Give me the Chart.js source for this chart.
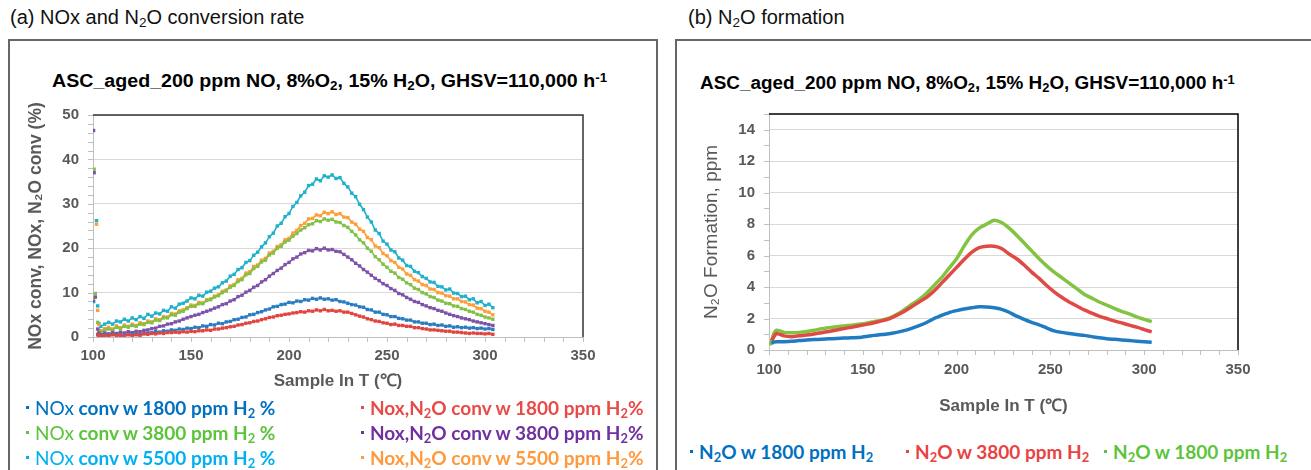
<!DOCTYPE html>
<html>
<head>
<meta charset="utf-8">
<script src="https://cdn.jsdelivr.net/npm/chart.js@4.4.1/dist/chart.umd.min.js"></script>
<style>
  html, body { margin: 0; padding: 0; background: #fff; }
  body { width: 1311px; height: 470px; position: relative; overflow: hidden; font-family: "Liberation Sans", Arial, sans-serif; }
  .frame { position: absolute; border: 2px solid #666; box-sizing: border-box; }
  .ptitle { position: absolute; font-size: 20px; color: #111; white-space: nowrap; }
  .ctitle { position: absolute; font-size: 18px; font-weight: bold; color: #000; white-space: nowrap; transform-origin: 0 0; }
  sub { font-size: 0.68em; vertical-align: -0.25em; line-height: 0; }
  sup { font-size: 0.68em; vertical-align: 0.45em; line-height: 0; }
  canvas { position: absolute; }
  .li { position: absolute; font-family: Lato, "Open Sans", sans-serif; font-weight: bold; font-size: 19px; line-height: 22px; white-space: nowrap; }
  .li i { display: inline-block; width: 3px; height: 3px; background: currentColor; vertical-align: middle; margin-right: 6px; position: relative; top: -3px; }
</style>
</head>
<body>
<div class="frame" style="left:8px;top:39px;width:650px;height:460px"></div>
<div class="frame" style="left:675px;top:39px;width:700px;height:460px"></div>

<div class="ptitle" style="left:10px;top:6px">(a) NOx and N<sub>2</sub>O conversion rate</div>
<div class="ptitle" style="left:688px;top:6px">(b) N<sub>2</sub>O formation</div>

<div class="ctitle" style="left:52px;top:71px;transform:scaleX(1.09)">ASC_aged_200 ppm NO, 8%O<sub>2</sub>, 15% H<sub>2</sub>O, GHSV=110,000 h<sup>-1</sup></div>
<div class="ctitle" style="left:700px;top:73px;transform:scaleX(1.05)">ASC_aged_200 ppm NO, 8%O<sub>2</sub>, 15% H<sub>2</sub>O, GHSV=110,000 h<sup>-1</sup></div>

<canvas id="chartA" width="600" height="300" style="left:8px;top:100px"></canvas>
<canvas id="chartB" width="600" height="320" style="left:680px;top:100px"></canvas>

<div class="li" style="left:26px;top:397px;color:#0070c0"><i></i><span style="font-weight:400">NOx</span> conv w 1800 ppm H<sub>2</sub> %</div>
<div class="li" style="left:26px;top:422px;color:#5cc43a"><i></i><span style="font-weight:400">NOx</span> conv w 3800 ppm H<sub>2</sub> %</div>
<div class="li" style="left:26px;top:447px;color:#00b0f0"><i></i><span style="font-weight:400">NOx</span> conv w 5500 ppm H<sub>2</sub> %</div>
<div class="li" style="left:361px;top:397px;color:#e84a48"><i></i>Nox,N<sub>2</sub>O conv w 1800 ppm H<sub>2</sub>%</div>
<div class="li" style="left:361px;top:422px;color:#7030a0"><i></i>Nox,N<sub>2</sub>O conv w 3800 ppm H<sub>2</sub>%</div>
<div class="li" style="left:361px;top:447px;color:#ff9a3c"><i></i>Nox,N<sub>2</sub>O conv w 5500 ppm H<sub>2</sub>%</div>

<div class="li" style="left:690px;top:441px;color:#0070c0"><i></i>N<sub>2</sub>O w 1800 ppm H<sub>2</sub></div>
<div class="li" style="left:906px;top:441px;color:#e8433f"><i></i>N<sub>2</sub>O w 3800 ppm H<sub>2</sub></div>
<div class="li" style="left:1104px;top:441px;color:#5cc43a"><i></i>N<sub>2</sub>O w 1800 ppm H<sub>2</sub></div>

<script>
// ---- panel (a) data: sample inlet T (°C) and conversions (%) ----
const earlyTempsA = [100.3, 100.6, 101.2, 101.8, 102.4, 103.0];
const tempsA = [
  104, 106, 108, 110, 112, 114, 116, 118, 120, 122,
  124, 126, 128, 130, 132, 134, 136, 138, 140, 142,
  144, 146, 148, 150, 152, 154, 156, 158, 160, 162,
  164, 166, 168, 170, 172, 174, 176, 178, 180, 182,
  184, 186, 188, 190, 192, 194, 196, 198, 200, 202,
  204, 206, 208, 210, 212, 214, 216, 218, 220, 222,
  224, 226, 228, 230, 232, 234, 236, 238, 240, 242,
  244, 246, 248, 250, 252, 254, 256, 258, 260, 262,
  264, 266, 268, 270, 272, 274, 276, 278, 280, 282,
  284, 286, 288, 290, 292, 294, 296, 298, 300, 302,
  304
];

const earlyNox1800 = [8.0, null, null, null, 0.6, 0.4];
const nox1800 = [
  0.2, 0.5, 0.3, 0.6, 0.4, 0.5, 0.3, 0.6, 0.5, 0.7,
  0.5, 0.8, 0.9, 1.0, 1.2, 1.1, 1.4, 1.3, 1.6, 1.5,
  1.8, 1.7, 2.0, 1.9, 2.2, 2.1, 2.5, 2.4, 2.8, 2.7,
  3.1, 3.0, 3.4, 3.5, 3.9, 4.0, 4.4, 4.5, 5.0, 5.1,
  5.5, 5.7, 6.1, 6.3, 6.8, 6.9, 7.3, 7.4, 7.8, 7.7,
  8.1, 8.0, 8.4, 8.3, 8.7, 8.5, 8.8, 8.5, 8.6, 8.3,
  8.4, 8.0, 7.9, 7.6, 7.3, 7.2, 6.8, 6.7, 6.2, 6.1,
  5.6, 5.6, 5.1, 5.0, 4.6, 4.6, 4.2, 4.1, 3.8, 3.8,
  3.4, 3.4, 3.1, 3.1, 2.8, 2.9, 2.6, 2.7, 2.4, 2.5,
  2.2, 2.3, 2.1, 2.2, 2.0, 2.1, 1.9, 2.0, 1.8, 1.9,
  1.7
];

const earlyNoxN2o1800 = [null, null, null, null, 0.5, 0.3];
const noxN2o1800 = [
  0.1, 0.4, 0.2, 0.5, 0.3, 0.4, 0.2, 0.5, 0.3, 0.5,
  0.4, 0.7, 0.6, 0.8, 0.7, 0.9, 0.8, 1.0, 1.0, 1.1,
  1.0, 1.2, 1.1, 1.3, 1.2, 1.4, 1.4, 1.6, 1.5, 1.8,
  1.8, 2.0, 2.1, 2.3, 2.4, 2.7, 2.8, 3.1, 3.2, 3.5,
  3.6, 3.9, 4.1, 4.4, 4.5, 4.8, 4.9, 5.1, 5.2, 5.4,
  5.5, 5.7, 5.6, 5.9, 5.8, 6.1, 5.9, 6.2, 5.9, 6.0,
  5.8, 5.9, 5.6, 5.6, 5.3, 5.0, 4.7, 4.5, 4.1, 3.9,
  3.6, 3.5, 3.2, 3.1, 2.8, 2.9, 2.6, 2.6, 2.4, 2.4,
  2.1, 2.1, 1.9, 1.8, 1.6, 1.6, 1.5, 1.4, 1.3, 1.3,
  1.1, 1.1, 1.0, 0.9, 0.8, 0.9, 0.8, 0.8, 0.7, 0.8,
  0.6
];

const earlyNox3800 = [null, 37.8, 9.8, null, 3.3, 1.5];
const nox3800 = [
  1.0, 1.6, 1.8, 1.5, 2.2, 1.9, 2.4, 2.2, 2.6, 2.4,
  2.9, 2.8, 3.3, 3.2, 3.8, 3.7, 4.3, 4.3, 5.0, 4.9,
  5.6, 5.8, 6.4, 6.9, 6.9, 7.5, 7.5, 8.2, 8.4, 9.0,
  9.3, 10.0, 10.4, 11.2, 11.6, 12.5, 12.9, 14.0, 14.3, 15.4,
  15.9, 16.9, 17.3, 18.5, 18.9, 20.0, 20.4, 21.4, 21.8, 22.7,
  23.3, 24.1, 24.6, 25.3, 25.5, 26.2, 26.0, 26.6, 26.3, 26.5,
  25.9, 25.8, 25.1, 24.7, 23.8, 23.0, 21.9, 21.2, 20.0, 19.3,
  18.1, 17.4, 16.4, 15.7, 14.8, 14.4, 13.4, 13.0, 12.2, 11.8,
  11.0, 10.7, 10.0, 9.7, 9.1, 8.9, 8.3, 8.1, 7.6, 7.5,
  7.0, 6.9, 6.4, 6.2, 5.8, 5.6, 5.1, 4.9, 4.5, 4.3,
  4.0
];

const earlyNoxN2o3800 = [46.5, 37.0, 9.0, null, 1.8, 0.9];
const noxN2o3800 = [
  0.5, 0.9, 0.7, 1.0, 0.8, 1.1, 0.9, 1.2, 1.0, 1.3,
  1.2, 1.5, 1.6, 1.9, 2.0, 2.4, 2.5, 2.9, 3.0, 3.4,
  3.6, 4.0, 4.3, 4.6, 4.9, 5.1, 5.5, 5.8, 6.1, 6.5,
  6.8, 7.3, 7.5, 8.1, 8.4, 9.1, 9.4, 10.1, 10.5, 11.2,
  11.6, 12.4, 12.9, 13.7, 14.3, 15.0, 15.5, 16.3, 16.8, 17.6,
  18.0, 18.7, 19.0, 19.5, 19.4, 19.9, 19.6, 20.0, 19.6, 19.7,
  19.3, 19.2, 18.6, 18.0, 17.4, 16.6, 16.0, 15.2, 14.6, 13.9,
  13.2, 12.7, 12.0, 11.6, 10.9, 10.5, 9.8, 9.5, 8.9, 8.5,
  8.0, 7.8, 7.3, 7.0, 6.6, 6.4, 6.0, 5.8, 5.4, 5.1,
  4.8, 4.6, 4.3, 4.1, 3.9, 3.6, 3.4, 3.2, 3.0, 2.8,
  2.6
];

const earlyNox5500 = [null, null, null, 26.2, 7.0, 3.0];
const nox5500 = [
  2.4, 2.9, 3.3, 2.9, 3.6, 3.4, 4.0, 3.6, 4.3, 3.9,
  4.6, 4.2, 5.1, 4.7, 5.4, 5.2, 6.0, 5.8, 6.8, 6.5,
  7.4, 7.6, 8.1, 8.8, 8.6, 9.4, 9.2, 10.1, 10.3, 11.0,
  11.3, 12.2, 12.6, 13.7, 14.1, 15.2, 15.6, 16.8, 17.2, 18.4,
  19.1, 20.3, 21.2, 22.6, 23.4, 25.0, 25.6, 27.1, 27.8, 29.4,
  30.3, 31.8, 32.6, 34.1, 34.4, 35.6, 35.2, 36.3, 36.0, 36.5,
  35.7, 35.9, 34.6, 33.8, 32.4, 31.6, 29.9, 28.7, 27.0, 25.9,
  24.1, 23.3, 21.6, 20.9, 19.6, 19.2, 17.8, 17.3, 16.1, 15.9,
  14.8, 14.5, 13.6, 13.2, 12.4, 12.3, 11.4, 11.3, 10.6, 10.8,
  9.9, 9.8, 9.1, 9.2, 8.4, 8.6, 7.7, 8.0, 7.1, 7.4,
  6.6
];

const earlyNoxN2o5500 = [8.4, null, null, 25.4, 6.0, 2.8];
const noxN2o5500 = [
  1.4, 1.9, 2.2, 1.8, 2.5, 2.1, 2.7, 2.4, 2.9, 2.6,
  3.2, 3.0, 3.6, 3.4, 4.1, 3.9, 4.6, 4.5, 5.3, 5.2,
  5.9, 6.1, 6.6, 7.2, 7.1, 7.8, 7.7, 8.4, 8.6, 9.2,
  9.5, 10.3, 10.6, 11.5, 11.8, 12.9, 13.2, 14.4, 14.7, 15.9,
  16.2, 17.3, 17.7, 18.9, 19.3, 20.4, 20.8, 21.9, 22.2, 23.4,
  24.0, 25.1, 25.6, 26.6, 26.7, 27.5, 27.3, 28.1, 27.8, 28.2,
  27.6, 27.8, 27.0, 26.9, 25.9, 25.4, 24.3, 23.8, 22.4, 21.9,
  20.5, 20.1, 18.8, 18.3, 17.2, 16.8, 15.7, 15.3, 14.2, 13.9,
  12.9, 12.6, 11.8, 11.6, 10.8, 10.7, 10.0, 9.9, 9.3, 9.2,
  8.6, 8.6, 8.0, 7.9, 7.3, 7.2, 6.5, 6.4, 5.8, 5.6,
  5.0
];

// ---- panel (b) data: N2O formation (ppm) ----
const earlyTempsB = [100.4, 101.4, 102.4];
const tempsB = [
  104, 108, 112, 116, 120, 124, 128, 132, 136, 140,
  144, 148, 152, 156, 160, 164, 168, 172, 176, 180,
  184, 188, 192, 196, 200, 204, 208, 212, 216, 220,
  224, 228, 232, 236, 240, 244, 248, 252, 256, 260,
  264, 268, 272, 276, 280, 284, 288, 292, 296, 300,
  304
];

const earlyN2o1800 = [null, 0.4, 0.5];
const n2o1800 = [
  0.52, 0.53, 0.55, 0.60, 0.63, 0.66, 0.68, 0.71, 0.73, 0.76,
  0.78, 0.80, 0.86, 0.93, 0.98, 1.03, 1.12, 1.23, 1.38, 1.55,
  1.75, 2.00, 2.20, 2.38, 2.50, 2.60, 2.68, 2.75, 2.74, 2.68,
  2.58, 2.40, 2.15, 1.95, 1.75, 1.60, 1.40, 1.22, 1.12, 1.05,
  0.98, 0.93, 0.85, 0.78, 0.72, 0.68, 0.64, 0.60, 0.56, 0.52,
  0.49
];

const earlyN2o3800 = [null, 0.6, 0.8];
const n2o3800 = [
  1.05, 0.90, 0.85, 0.90, 0.95, 1.02, 1.10, 1.18, 1.27, 1.36,
  1.45, 1.54, 1.63, 1.73, 1.85, 1.98, 2.20, 2.45, 2.75, 3.05,
  3.35, 3.75, 4.25, 4.75, 5.25, 5.75, 6.20, 6.50, 6.60, 6.60,
  6.45, 6.10, 5.80, 5.40, 4.95, 4.55, 4.10, 3.70, 3.35, 3.05,
  2.80, 2.55, 2.35, 2.15, 2.00, 1.85, 1.72, 1.58, 1.45, 1.30,
  1.15
];

const earlyN2o1800b = [0.3, 0.55, 1.0];
const n2o1800b = [
  1.25, 1.12, 1.10, 1.12, 1.17, 1.25, 1.35, 1.42, 1.48, 1.53,
  1.58, 1.63, 1.70, 1.80, 1.90, 2.03, 2.25, 2.55, 2.90, 3.20,
  3.60, 4.10, 4.60, 5.20, 5.80, 6.60, 7.30, 7.75, 8.00, 8.25,
  8.10, 7.75, 7.30, 6.80, 6.30, 5.80, 5.35, 4.95, 4.60, 4.25,
  3.90, 3.55, 3.30, 3.05, 2.85, 2.65, 2.45, 2.30, 2.10, 1.95,
  1.80
];

// axis tick labels
const xTicks = [100, 150, 200, 250, 300, 350];
const yTicksA = [0, 10, 20, 30, 40, 50];
const yTicksB = [0, 2, 4, 6, 8, 10, 12, 14];

const FONT = '"Liberation Sans", Arial, sans-serif';
const AXIS_GREY = '#595959';

function pts(temps, vals) {
  return temps.map((t, i) => ({ x: t, y: vals[i] }));
}

// light minor ticks on the axes + dark top/right border of the plot area
const plotFrame = {
  id: 'plotFrame',
  afterDraw(chart, args, opts) {
    const { ctx, chartArea: a, scales: { x, y } } = chart;
    ctx.save();
    ctx.strokeStyle = '#bfbfbf';
    ctx.lineWidth = 1;
    ctx.beginPath();
    for (let v = x.min; v <= x.max; v += opts.xMinor) {
      const px = Math.round(x.getPixelForValue(v)) + 0.5;
      ctx.moveTo(px, a.bottom);
      ctx.lineTo(px, a.bottom + 5);
    }
    for (let v = y.min; v <= y.max; v += opts.yMinor) {
      const py = Math.round(y.getPixelForValue(v)) + 0.5;
      ctx.moveTo(a.left - 5, py);
      ctx.lineTo(a.left, py);
    }
    ctx.stroke();
    ctx.strokeStyle = opts.color;
    ctx.lineWidth = 1.5;
    ctx.beginPath();
    ctx.moveTo(a.left, a.top);
    ctx.lineTo(a.right, a.top);
    ctx.lineTo(a.right, a.bottom);
    ctx.stroke();
    ctx.restore();
  }
};

function xScale(height, labelPad, titlePad) {
  return {
    type: 'linear', min: 100, max: 350,
    afterBuildTicks: s => { s.ticks = xTicks.map(v => ({ value: v })); },
    afterFit: s => { s.height = height; s.paddingLeft = 0; s.paddingRight = 0; },
    grid: { display: false, drawTicks: false },
    border: { color: '#bfbfbf', width: 1 },
    ticks: { padding: labelPad, color: AXIS_GREY, font: { family: FONT, size: 15, weight: 'bold' } },
    title: { display: true, text: 'Sample In T (℃)', color: AXIS_GREY,
      font: { family: FONT, size: 17, weight: 'bold' }, padding: { top: 0, bottom: titlePad } }
  };
}

function yScale(max, ticks, width, title, titleFont, titlePad) {
  return {
    min: 0, max: max,
    afterBuildTicks: s => { s.ticks = ticks.map(v => ({ value: v })); },
    afterFit: s => { s.width = width; s.paddingTop = 0; s.paddingBottom = 0; },
    grid: { color: '#d9d9d9', drawTicks: false },
    border: { color: '#bfbfbf', width: 1 },
    ticks: { padding: 14, color: AXIS_GREY, font: { family: FONT, size: 15, weight: 'bold' } },
    title: { display: true, text: title, color: AXIS_GREY, font: titleFont, padding: { top: titlePad, bottom: 0 } }
  };
}

function scatterSet(color, temps, vals) {
  return {
    data: pts(temps, vals),
    showLine: true,
    borderColor: color,
    backgroundColor: color,
    borderWidth: 1.6,
    pointRadius: 2.4,
    pointStyle: 'rect',
    pointBorderWidth: 0,
    segment: { borderColor: c => c.p0.parsed.x < 103.5 ? 'rgba(0,0,0,0)' : color }
  };
}

const seriesA = [
  ['#e0453f', earlyNoxN2o1800, noxN2o1800],
  ['#2a7cc0', earlyNox1800, nox1800],
  ['#7e52a8', earlyNoxN2o3800, noxN2o3800],
  ['#82c046', earlyNox3800, nox3800],
  ['#ff9d38', earlyNoxN2o5500, noxN2o5500],
  ['#1fb1cc', earlyNox5500, nox5500]
];

new Chart(document.getElementById('chartA'), {
  type: 'scatter',
  data: {
    datasets: seriesA.map(([c, e, v]) => scatterSet(c, earlyTempsA.concat(tempsA), e.concat(v)))
  },
  options: {
    responsive: false,
    animation: false,
    layout: { padding: { left: 14, top: 15, right: 25, bottom: 0 } },
    plugins: { legend: { display: false }, tooltip: { enabled: false },
      plotFrame: { xMinor: 10, yMinor: 2, color: '#333' } },
    scales: {
      x: xScale(63, 10, 8),
      y: yScale(50, yTicksA, 71, 'NOx conv, NOx, N₂O conv (%)', { family: FONT, size: 17.5, weight: 'bold' }, 4)
    }
  },
  plugins: [plotFrame]
});

const seriesB = [
  ['#1f7cc2', earlyN2o1800, n2o1800],
  ['#e04a44', earlyN2o3800, n2o3800],
  ['#82c341', earlyN2o1800b, n2o1800b]
];

new Chart(document.getElementById('chartB'), {
  type: 'scatter',
  data: {
    datasets: seriesB.map(([c, e, v]) => ({
      data: pts(earlyTempsB.concat(tempsB), e.concat(v)),
      showLine: true,
      borderColor: c,
      backgroundColor: c,
      borderWidth: 3.5,
      pointRadius: 0,
      tension: 0.2
    }))
  },
  options: {
    responsive: false,
    animation: false,
    layout: { padding: { left: 18, top: 14, right: 42, bottom: 0 } },
    plugins: { legend: { display: false }, tooltip: { enabled: false },
      plotFrame: { xMinor: 10, yMinor: 1, color: '#000' } },
    scales: {
      x: xScale(70, 11, 3),
      y: yScale(15, yTicksB, 71, 'N₂O Formation, ppm', { family: FONT, size: 19, weight: 'normal' }, 2)
    }
  },
  plugins: [plotFrame]
});
</script>
</body>
</html>
